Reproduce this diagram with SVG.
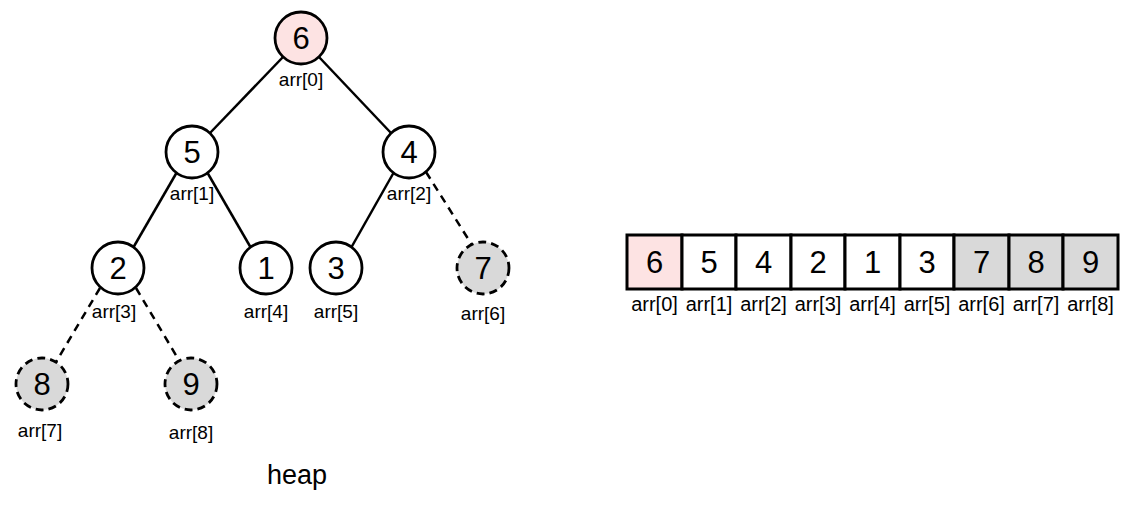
<svg xmlns="http://www.w3.org/2000/svg" width="1140" height="508" viewBox="0 0 1140 508">
<style>
text{font-family:"Liberation Sans",Arial,sans-serif;fill:#000;text-anchor:middle}
.n{font-size:31px}
.l{font-size:19px}
.al{font-size:20px}
.c{stroke:#000;stroke-width:2.8;fill:#fff}
.root{fill:#fde3e3}
.g{fill:#d9d9d9;stroke-dasharray:8 5}
.e{stroke:#000;stroke-width:2.5;fill:none}
.d{stroke-dasharray:8 6}
.cell{stroke:#000;stroke-width:3;fill:#fff}
</style>
<rect width="1140" height="508" fill="#fff"/>
<g id="connectors">
<line class="e" x1="283" y1="57" x2="210" y2="133"/>
<line class="e" x1="319" y1="57" x2="391" y2="133"/>
<line class="e" x1="177" y1="172" x2="133" y2="248"/>
<line class="e" x1="207" y1="172" x2="251" y2="248"/>
<line class="e" x1="394" y1="172" x2="351" y2="248"/>
<line class="e d" x1="426" y1="172" x2="472" y2="245"/>
<line class="e d" x1="100" y1="288" x2="56" y2="362"/>
<line class="e d" x1="136" y1="288" x2="180" y2="362"/>
</g>
<g id="n0"><circle class="c root" cx="301" cy="38" r="26"/><text class="n" x="301" y="49">6</text><text class="l" x="301" y="86">arr[0]</text></g>
<g id="n1"><circle class="c" cx="192" cy="152" r="26"/><text class="n" x="192" y="163">5</text><text class="l" x="192" y="200">arr[1]</text></g>
<g id="n2"><circle class="c" cx="409" cy="152" r="26"/><text class="n" x="409" y="163">4</text><text class="l" x="409" y="200">arr[2]</text></g>
<g id="n3"><circle class="c" cx="118" cy="268" r="26"/><text class="n" x="118" y="279">2</text><text class="l" x="114" y="318">arr[3]</text></g>
<g id="n4"><circle class="c" cx="266" cy="268" r="26"/><text class="n" x="266" y="279">1</text><text class="l" x="266" y="318">arr[4]</text></g>
<g id="n5"><circle class="c" cx="336" cy="268" r="26"/><text class="n" x="336" y="279">3</text><text class="l" x="336" y="318">arr[5]</text></g>
<g id="n6"><circle class="c g" cx="483" cy="268" r="26"/><text class="n" x="483" y="279">7</text><text class="l" x="483" y="320">arr[6]</text></g>
<g id="n7"><circle class="c g" cx="42" cy="384" r="26"/><text class="n" x="42" y="395">8</text><text class="l" x="40" y="437">arr[7]</text></g>
<g id="n8"><circle class="c g" cx="191" cy="384" r="26"/><text class="n" x="191" y="395">9</text><text class="l" x="191" y="439">arr[8]</text></g>
<text id="heap-label" x="297" y="484" style="font-size:27px">heap</text>
<g id="array">
<rect class="cell" x="627" y="235" width="55" height="54" style="fill:#fde3e3"/>
<rect class="cell" x="682" y="235" width="54" height="54"/>
<rect class="cell" x="736" y="235" width="55" height="54"/>
<rect class="cell" x="791" y="235" width="54" height="54"/>
<rect class="cell" x="845" y="235" width="55" height="54"/>
<rect class="cell" x="900" y="235" width="54" height="54"/>
<rect class="cell" x="954" y="235" width="55" height="54" style="fill:#d9d9d9"/>
<rect class="cell" x="1009" y="235" width="54" height="54" style="fill:#d9d9d9"/>
<rect class="cell" x="1063" y="235" width="55" height="54" style="fill:#d9d9d9"/>
<text class="n" x="654.5" y="273">6</text>
<text class="n" x="709" y="273">5</text>
<text class="n" x="763.5" y="273">4</text>
<text class="n" x="818" y="273">2</text>
<text class="n" x="872.5" y="273">1</text>
<text class="n" x="927" y="273">3</text>
<text class="n" x="981.5" y="273">7</text>
<text class="n" x="1036" y="273">8</text>
<text class="n" x="1090.5" y="273">9</text>
<text class="al" x="654.5" y="311">arr[0]</text>
<text class="al" x="709" y="311">arr[1]</text>
<text class="al" x="763.5" y="311">arr[2]</text>
<text class="al" x="818" y="311">arr[3]</text>
<text class="al" x="872.5" y="311">arr[4]</text>
<text class="al" x="927" y="311">arr[5]</text>
<text class="al" x="981.5" y="311">arr[6]</text>
<text class="al" x="1036" y="311">arr[7]</text>
<text class="al" x="1090.5" y="311">arr[8]</text>
</g>
</svg>
